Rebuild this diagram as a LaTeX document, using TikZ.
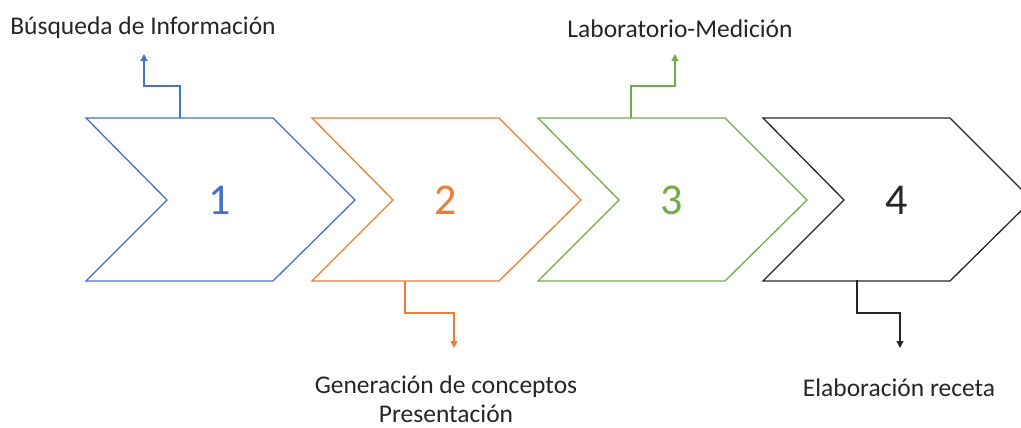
\documentclass[tikz,border=0pt]{standalone}
\usepackage{fontspec}
\setmainfont{Carlito}
\usetikzlibrary{arrows.meta}
\definecolor{cblue}{HTML}{4472C4}
\definecolor{corange}{HTML}{ED7D31}
\definecolor{cgreen}{HTML}{70AD47}
\definecolor{cblack}{HTML}{262626}
\begin{document}
\begin{tikzpicture}[x=1pt,y=-1pt,
  chev/.style={line width=1.3pt, line join=miter},
  conn/.style={line width=1.3pt, -{Triangle[width=7pt,length=7pt]}},
  num/.style={font=\fontsize{44}{48}\selectfont, inner sep=0pt},
  lbl/.style={font=\fontsize{25.5}{29}\selectfont, text=cblack, inner sep=0pt, align=center}]
\useasboundingbox (0,0) rectangle (1021,428);
% chevrons
\foreach \dx/\col/\n/\name in {0/cblue/1/c1, 226/corange/2/c2, 452/cgreen/3/c3, 677/cblack/4/c4}{
  \draw[chev, draw=\col] (86+\dx,118) -- (273+\dx,118) -- (355+\dx,200) -- (273+\dx,281) -- (86+\dx,281) -- (167+\dx,200) -- cycle;
  \node[num, text=\col] (\name) at (220+\dx,200) {\n};
}
% labels
\node[lbl] (l1) at (143,28) {Búsqueda de Información};
\node[lbl] (l2) at (446,399) {Generación de conceptos\\Presentación};
\node[lbl] (l3) at (680,29) {Laboratorio-Medición};
\node[lbl] (l4) at (899,388) {Elaboración receta};
% connectors
\coordinate (s1) at (180,118);
\coordinate (s2) at (405,281);
\coordinate (s3) at (631,118);
\coordinate (s4) at (857,280);
\coordinate (a1) at (144,54);
\coordinate (a2) at (454,348);
\coordinate (a3) at (675,54);
\coordinate (a4) at (900,348);
\draw[conn, draw=cblue] (s1) |- (162,86) -| (a1);
\draw[conn, draw=corange] (s2) |- (430,313) -| (a2);
\draw[conn, draw=cgreen] (s3) |- (653,86) -| (a3);
\draw[conn, draw=cblack] (s4) |- (878,313) -| (a4);
\end{tikzpicture}
\end{document}
